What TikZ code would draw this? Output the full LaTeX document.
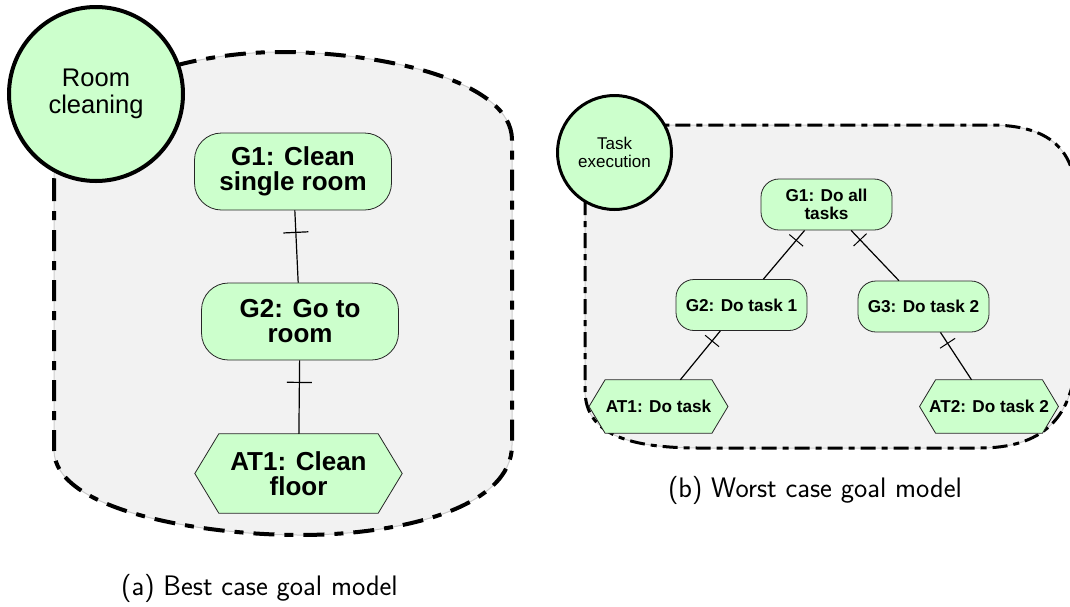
\documentclass[tikz,border=0pt]{standalone}
\usepackage{fontspec}
\setmainfont{Liberation Sans}
\usetikzlibrary{decorations.markings,calc}
\definecolor{nodegreen}{HTML}{CCFFCC}
\definecolor{groupgray}{HTML}{F2F2F2}
\pgfdeclarelayer{bg}
\pgfsetlayers{bg,main}
\begin{document}
\begin{tikzpicture}[x=1pt,y=-1pt,
  grpfill/.style={fill=groupgray, draw=black!20, line width=1pt},
  grplineA/.style={draw=black, line width=4pt, dash pattern=on 21pt off 10pt on 9pt off 10pt},
  grplineB/.style={draw=black, line width=3pt, dash pattern=on 15pt off 6pt on 6pt off 6pt},
  ctxA/.style={circle, draw=black, line width=4pt, fill=nodegreen, minimum size=174pt, inner sep=0pt, align=center, font=\fontsize{25.5}{26.5}\selectfont},
  ctxB/.style={circle, draw=black, line width=3pt, fill=nodegreen, minimum size=114pt, inner sep=0pt, align=center, font=\fontsize{17}{17.6}\selectfont},
  goalA/.style={draw=black!85, line width=0.8pt, fill=nodegreen, rounded corners=27pt, minimum width=197pt, minimum height=77pt, inner sep=0pt, align=center, font=\fontsize{26}{25}\selectfont\bfseries},
  goalB/.style={draw=black!85, line width=0.8pt, fill=nodegreen, rounded corners=18pt, minimum width=131pt, minimum height=51pt, inner sep=0pt, align=center, font=\fontsize{17.2}{17.4}\selectfont\bfseries},
  taskA/.style={inner sep=0pt, minimum width=207pt, minimum height=79pt, align=center, font=\fontsize{26}{25}\selectfont\bfseries},
  taskB/.style={inner sep=0pt, minimum width=138.5pt, minimum height=53pt, align=center, font=\fontsize{17.2}{17.4}\selectfont\bfseries},
  hexline/.style={draw=black!85, line width=0.8pt, fill=nodegreen},
  link/.style={draw=black, line width=1.2pt},
  tickA/.style={postaction={decorate, decoration={markings, mark=at position 22pt with {\draw[line width=1.2pt] (0pt,-12.5pt) -- (0pt,12.5pt);}}}},
  tickB/.style={postaction={decorate, decoration={markings, mark=at position 13pt with {\draw[line width=1pt] (0pt,-9pt) -- (0pt,9pt);}}}},
  caption/.style={anchor=base, inner sep=0pt, font=\sffamily\fontsize{28.2}{32}\selectfont}
]
\useasboundingbox (0,0) rectangle (1070,606);
\clip (0,0) rectangle (1070,606);

% containers
\begin{pgfonlayer}{bg}
\path[grpfill] (54,180) -- (54,450) .. controls (54,510) and (200,535) .. (300,535) .. controls (400,535) and (512,508) .. (512,445) -- (512,140) .. controls (512,80) and (380,52) .. (280,52) .. controls (200,52) and (54,80) .. (54,180) -- cycle;
\path[grplineA] (54,180) -- (54,450) .. controls (54,510) and (200,535) .. (300,535) .. controls (400,535) and (512,508) .. (512,445) -- (512,140) .. controls (512,80) and (380,52) .. (280,52) .. controls (200,52) and (54,80) .. (54,180) -- cycle;
\path[grpfill] (585,200) -- (585,390) .. controls (585,435) and (630,448) .. (700,448) -- (980,448) .. controls (1040,448) and (1076,420) .. (1076,350) -- (1076,200) .. controls (1076,150) and (1050,125) .. (990,125) -- (670,125) .. controls (620,125) and (585,150) .. (585,200) -- cycle;
\path[grplineB] (585,200) -- (585,390) .. controls (585,435) and (630,448) .. (700,448) -- (980,448) .. controls (1040,448) and (1076,420) .. (1076,350) -- (1076,200) .. controls (1076,150) and (1050,125) .. (990,125) -- (670,125) .. controls (620,125) and (585,150) .. (585,200) -- cycle;
\end{pgfonlayer}

% left model
\node[ctxA] (ctxa) at (96,94) {Room\\cleaning};
\node[goalA] (ag1) at (293,171.5) {G1: Clean\\single room};
\node[goalA] (ag2) at (300,321.5) {G2: Go to\\room};
\node[taskA] (aat1) at (298.5,473.5) {AT1: Clean\\floor};

% right model
\node[ctxB] (ctxb) at (614.5,152.5) {Task\\execution};
\node[goalB] (bg1) at (826.5,204.5) {G1: Do all\\tasks};
\node[goalB] (bg2) at (741.5,305) {G2: Do task 1};
\node[goalB] (bg3) at (923.5,306.5) {G3: Do task 2};
\node[taskB] (bat1) at (658.5,406.5) {AT1: Do task};
\node[taskB] (bat2) at (989,406.5) {AT2: Do task 2};

% hexagon outlines of the task nodes
\begin{pgfonlayer}{bg}
\path[hexline] (aat1.west) -- ($(aat1.north west)+(24,0)$) -- ($(aat1.north east)+(-24,0)$) -- (aat1.east) -- ($(aat1.south east)+(-24,0)$) -- ($(aat1.south west)+(24,0)$) -- cycle;
\path[hexline] (bat1.west) -- ($(bat1.north west)+(16,0)$) -- ($(bat1.north east)+(-16,0)$) -- (bat1.east) -- ($(bat1.south east)+(-16,0)$) -- ($(bat1.south west)+(16,0)$) -- cycle;
\path[hexline] (bat2.west) -- ($(bat2.north west)+(16,0)$) -- ($(bat2.north east)+(-16,0)$) -- (bat2.east) -- ($(bat2.south east)+(-16,0)$) -- ($(bat2.south west)+(16,0)$) -- cycle;
\end{pgfonlayer}

% connectors
\draw[link, tickA] (ag1) -- (ag2);
\draw[link, tickA] (ag2) -- (aat1);
\draw[link, tickB] (bg1) -- (bg2);
\draw[link, tickB] (bg1) -- (bg3);
\draw[link, tickB] (bg2) -- (bat1);
\draw[link, tickB] (bg3) -- (bat2);

% captions
\node[caption] (capa) at (259.5,595) {(a) Best case goal model};
\node[caption] (capb) at (815,497) {(b) Worst case goal model};
\end{tikzpicture}
\end{document}
